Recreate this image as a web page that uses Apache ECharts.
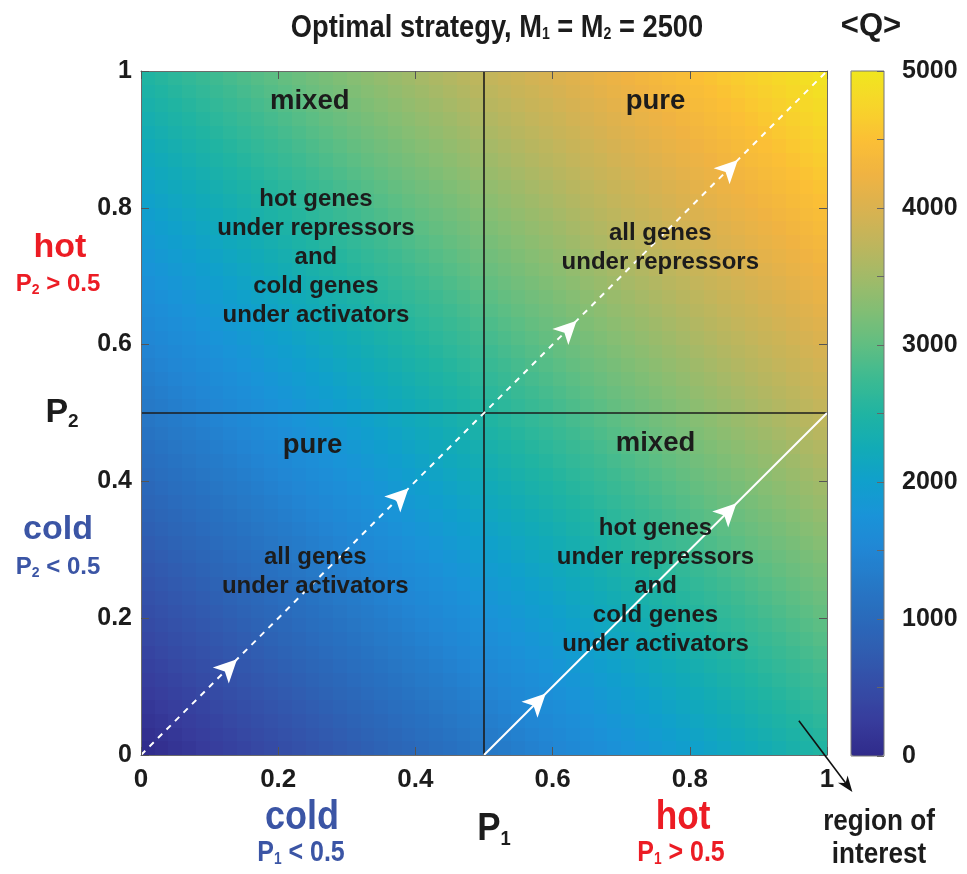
<!DOCTYPE html>
<html>
<head>
<meta charset="utf-8">
<script src="https://cdn.jsdelivr.net/npm/echarts@6/dist/echarts.min.js"></script>
<style>
  html, body { margin: 0; padding: 0; background: #ffffff; }
  #chart { width: 967px; height: 874px; }
</style>
</head>
<body>
<div id="chart"></div>
<script>
// Cell centres of the 50 x 50 grid along P1 and along P2
const cellCentres = [
  0.01, 0.03, 0.05, 0.07, 0.09, 0.11, 0.13, 0.15, 0.17, 0.19,
  0.21, 0.23, 0.25, 0.27, 0.29, 0.31, 0.33, 0.35, 0.37, 0.39,
  0.41, 0.43, 0.45, 0.47, 0.49, 0.51, 0.53, 0.55, 0.57, 0.59,
  0.61, 0.63, 0.65, 0.67, 0.69, 0.71, 0.73, 0.75, 0.77, 0.79,
  0.81, 0.83, 0.85, 0.87, 0.89, 0.91, 0.93, 0.95, 0.97, 0.99
];
const CELL_HALF = 0.01;

// <Q> on each anti-diagonal band of cells (band k = cells with i + j = k),
// from the lower-left corner to the upper-right corner
const bandQ = [
  40, 90, 140, 185, 235, 285, 330, 380, 430, 480,
  530, 575, 625, 675, 725, 770, 820, 870, 920, 965,
  1015, 1065, 1115, 1165, 1210, 1260, 1310, 1360, 1410, 1460,
  1510, 1560, 1610, 1660, 1710, 1765, 1815, 1865, 1915, 1970,
  2020, 2075, 2125, 2180, 2230, 2285, 2340, 2395, 2445, 2500,
  2555, 2610, 2660, 2715, 2765, 2820, 2870, 2925, 2975, 3030,
  3080, 3130, 3180, 3230, 3280, 3330, 3380, 3430, 3480, 3530,
  3580, 3630, 3680, 3725, 3775, 3825, 3870, 3920, 3965, 4015,
  4060, 4110, 4155, 4205, 4250, 4300, 4345, 4395, 4440, 4490,
  4540, 4590, 4640, 4690, 4740, 4790, 4840, 4890, 4940
];

// Colour scale for <Q>, 0 to 5000
const qColours = [
  '#302a8a', '#373c9c', '#354ca6', '#305cb0', '#2a6abb', '#2678c6', '#2186d4',
  '#1a93d8', '#10a0cc', '#12abb6', '#20b4a2', '#3cba92', '#60be82', '#82be74',
  '#a2ba68', '#c0b55c', '#dab250', '#f0b342', '#fbc035', '#f7d52a', '#f0e61f'
];
const qLabels = [0, 1000, 2000, 3000, 4000, 5000];

// Trajectories and quadrant boundaries in (P1, P2)
const diagonalPath = [[0, 0], [1, 1]];
const hotColdPath = [[0.5, 0], [1, 0.5]];
const boundaryP1 = [[0.5, 0], [0.5, 1]];
const boundaryP2 = [[0, 0.5], [1, 0.5]];
const diagonalArrows = [[0.14, 0.14], [0.39, 0.39], [0.635, 0.635], [0.87, 0.87]];
const hotColdArrows = [[0.59, 0.09], [0.868, 0.368]];
const regionArrow = [[0.959, 0.05], [1.037, -0.054]];

// Quadrant annotations
const regionTitles = [
  { value: [0.246, 0.955], text: 'mixed' },
  { value: [0.75, 0.955], text: 'pure' },
  { value: [0.25, 0.453], text: 'pure' },
  { value: [0.75, 0.455], text: 'mixed' }
];
const mixedText = 'hot genes\nunder repressors\nand\ncold genes\nunder activators';
const regionNotes = [
  { value: [0.255, 0.727], text: mixedText },
  { value: [0.757, 0.742], text: 'all genes\nunder repressors' },
  { value: [0.254, 0.267], text: 'all genes\nunder activators' },
  { value: [0.75, 0.247], text: mixedText }
];

const heat = [];
cellCentres.forEach((p1, i) => {
  cellCentres.forEach((p2, j) => {
    heat.push([p1, p2, bandQ[i + j]]);
  });
});

const FONT = "'Liberation Sans', Arial, Helvetica, sans-serif";
const INK = '#1c1c1c';
const RED = '#ec1c24';
const BLUE = '#3b55a5';

const boxAxis = {
  axisLine: { show: true, onZero: false, lineStyle: { color: '#6b6b6b', width: 1 } },
  axisTick: { show: true, inside: true, length: 8, lineStyle: { color: '#555', width: 1 } },
  splitLine: { show: false },
  z: 6
};

const chart = echarts.init(document.getElementById('chart'), null, { renderer: 'canvas' });

const option = {
  backgroundColor: '#ffffff',
  animation: false,
  grid: [
    { left: 141, top: 71, width: 686, height: 684 },
    { left: 851, top: 71, width: 33, height: 685, show: true, backgroundColor: 'transparent',
      borderColor: '#777', borderWidth: 1, z: 8 }
  ],
  xAxis: [
    Object.assign({ type: 'value', gridIndex: 0, min: 0, max: 1, interval: 0.2, position: 'bottom',
      axisLabel: { margin: 12, color: INK, fontFamily: FONT, fontWeight: 'bold', fontSize: 26 } }, boxAxis),
    Object.assign({ type: 'value', gridIndex: 0, min: 0, max: 1, interval: 0.2, position: 'top',
      axisLabel: { show: false } }, boxAxis),
    { type: 'category', gridIndex: 1, data: [''], show: false }
  ],
  yAxis: [
    Object.assign({ type: 'value', gridIndex: 0, min: 0, max: 1, interval: 0.2, position: 'left',
      axisLabel: { margin: 9, color: INK, fontFamily: FONT, fontWeight: 'bold', fontSize: 25 } }, boxAxis),
    Object.assign({ type: 'value', gridIndex: 0, min: 0, max: 1, interval: 0.2, position: 'right',
      axisLabel: { show: false } }, boxAxis),
    { type: 'value', gridIndex: 1, min: 0, max: 5000, interval: 500, position: 'right', z: 9,
      axisLine: { show: false },
      axisTick: { show: true, inside: true, length: 7, lineStyle: { color: '#666', width: 1 } },
      splitLine: { show: false },
      axisLabel: { margin: 18, color: INK, fontFamily: FONT, fontWeight: 'bold', fontSize: 25,
        formatter: v => (qLabels.indexOf(v) >= 0 ? String(v) : '') } }
  ],
  visualMap: {
    type: 'continuous', min: 0, max: 5000, dimension: 2, seriesIndex: 0, calculable: false,
    orient: 'vertical', left: 851, top: 71, itemWidth: 33, itemHeight: 685, padding: 0,
    inRange: { color: qColours }
  },
  series: [
    {
      // <Q> cells, snapped to whole pixels so neighbouring cells tile without seams
      type: 'custom', xAxisIndex: 0, yAxisIndex: 0, data: heat, silent: true, z: 1,
      renderItem: (params, api) => {
        const lo = api.coord([api.value(0) - CELL_HALF, api.value(1) - CELL_HALF]);
        const hi = api.coord([api.value(0) + CELL_HALF, api.value(1) + CELL_HALF]);
        const x0 = Math.round(lo[0]), x1 = Math.round(hi[0]);
        const y0 = Math.round(hi[1]), y1 = Math.round(lo[1]);
        return { type: 'rect', shape: { x: x0, y: y0, width: x1 - x0, height: y1 - y0 },
          style: { fill: api.visual('color') } };
      }
    },
    { type: 'line', xAxisIndex: 0, yAxisIndex: 0, data: boundaryP1, symbol: 'none', silent: true, z: 4,
      lineStyle: { color: INK, width: 1.6 } },
    { type: 'line', xAxisIndex: 0, yAxisIndex: 0, data: boundaryP2, symbol: 'none', silent: true, z: 4,
      lineStyle: { color: INK, width: 1.6 } },
    { type: 'line', xAxisIndex: 0, yAxisIndex: 0, data: diagonalPath, symbol: 'none', silent: true, z: 5,
      lineStyle: { color: '#ffffff', width: 2, type: [6, 6] } },
    { type: 'line', xAxisIndex: 0, yAxisIndex: 0, data: hotColdPath, symbol: 'none', silent: true, z: 5,
      lineStyle: { color: '#ffffff', width: 2 } },
    { type: 'scatter', xAxisIndex: 0, yAxisIndex: 0, data: diagonalArrows.concat(hotColdArrows),
      symbol: 'arrow', symbolSize: [17, 23], symbolRotate: -45, silent: true, z: 6,
      itemStyle: { color: '#ffffff', opacity: 1 } },
    { type: 'scatter', xAxisIndex: 0, yAxisIndex: 0, data: regionTitles, symbolSize: 0, silent: true, z: 7,
      itemStyle: { opacity: 1 },
      label: { show: true, position: 'inside', formatter: p => p.data.text, color: INK,
        fontFamily: FONT, fontWeight: 'bold', fontSize: 27.5 } },
    { type: 'scatter', xAxisIndex: 0, yAxisIndex: 0, data: regionNotes, symbolSize: 0, silent: true, z: 7,
      itemStyle: { opacity: 1 },
      label: { show: true, position: 'inside', formatter: p => p.data.text, color: INK,
        fontFamily: FONT, fontWeight: 'bold', fontSize: 24, lineHeight: 29, align: 'center' } }
  ]
};

function sub(color, size) {
  return { fill: color, fontSize: size, fontWeight: 'bold', fontFamily: FONT, padding: [Math.round(size * 0.9), 0, 0, 0] };
}
function txt(x, y, text, opts, scaleX) {
  return {
    type: 'text', x: x, y: y, z: 20, silent: true, scaleX: scaleX || 1,
    style: Object.assign({ text: text, align: 'center', verticalAlign: 'middle', fontWeight: 'bold', fontFamily: FONT }, opts)
  };
}
function subText(x, y, parts, color, size, subSize, scaleX) {
  return txt(x, y, parts, {
    rich: { m: { fill: color, fontSize: size, fontWeight: 'bold', fontFamily: FONT }, s: sub(color, subSize) }
  }, scaleX);
}

chart.setOption(option);

// Arrow pointing out of the plot towards the "region of interest" note
const tail = chart.convertToPixel({ xAxisIndex: 0, yAxisIndex: 0 }, regionArrow[0]);
const tip = chart.convertToPixel({ xAxisIndex: 0, yAxisIndex: 0 }, regionArrow[1]);
const dx = tip[0] - tail[0], dy = tip[1] - tail[1];
const len = Math.sqrt(dx * dx + dy * dy), ux = dx / len, uy = dy / len;
const headLen = 16, headHalf = 6;
const base = [tip[0] - ux * headLen, tip[1] - uy * headLen];
const notch = [tip[0] - ux * headLen * 0.7, tip[1] - uy * headLen * 0.7];

chart.setOption({
  graphic: [
    // Title and colour-bar heading
    subText(497, 28, '{m|Optimal strategy, M}{s|1}{m| = M}{s|2}{m| = 2500}', INK, 31, 16, 0.88),
    txt(871, 26, '<Q>', { fill: INK, fontSize: 31 }),
    // P2 side
    txt(60, 248, 'hot', { fill: RED, fontSize: 34 }),
    subText(58, 284, '{m|P}{s|2}{m| > 0.5}', RED, 24, 14),
    subText(62, 413, '{m|P}{s|2}', INK, 34, 19),
    txt(58, 530, 'cold', { fill: BLUE, fontSize: 34 }),
    subText(58, 567, '{m|P}{s|2}{m| < 0.5}', BLUE, 24, 14),
    // P1 side
    txt(302, 818, 'cold', { fill: BLUE, fontSize: 40 }, 0.9),
    subText(301, 853, '{m|P}{s|1}{m| < 0.5}', BLUE, 29, 16, 0.86),
    subText(494, 830, '{m|P}{s|1}', INK, 38, 20, 0.92),
    txt(683, 818, 'hot', { fill: RED, fontSize: 40 }, 0.88),
    subText(681, 853, '{m|P}{s|1}{m| > 0.5}', RED, 29, 16, 0.86),
    txt(879, 822, 'region of', { fill: INK, fontSize: 29 }, 0.9),
    txt(879, 855, 'interest', { fill: INK, fontSize: 29 }, 0.9),
    // Region-of-interest arrow
    { type: 'line', z: 20, silent: true,
      shape: { x1: tail[0], y1: tail[1], x2: notch[0], y2: notch[1] },
      style: { stroke: '#111', lineWidth: 1.6 } },
    { type: 'polygon', z: 20, silent: true,
      shape: { points: [
        tip,
        [base[0] - uy * headHalf, base[1] + ux * headHalf],
        notch,
        [base[0] + uy * headHalf, base[1] - ux * headHalf]
      ] },
      style: { fill: '#111' } }
  ]
});
</script>
</body>
</html>
